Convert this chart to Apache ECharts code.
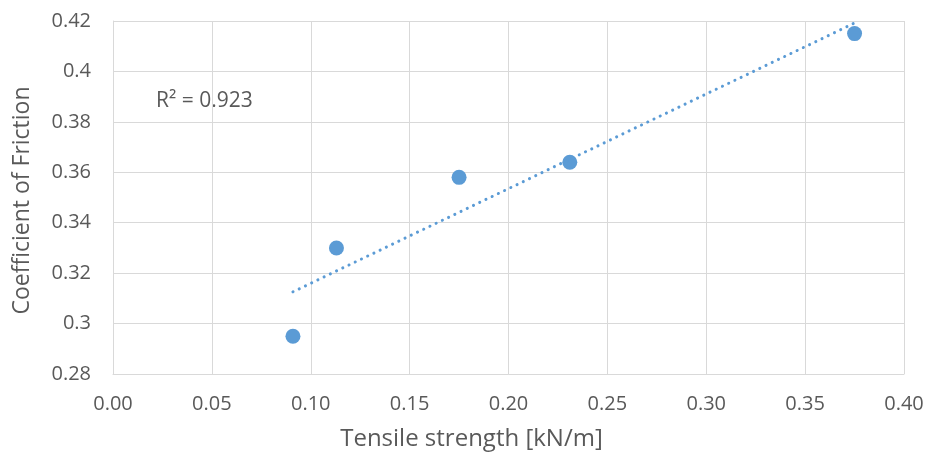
<!DOCTYPE html>
<html><head><meta charset="utf-8">
<script src="https://cdn.jsdelivr.net/npm/echarts@6/dist/echarts.min.js"></script>
<style>html,body{margin:0;padding:0;background:#fff}#c{width:929px;height:452px}</style>
</head><body><div id="c"></div>
<script>
const tensile = [0.091, 0.113, 0.175, 0.231, 0.375];
const friction = [0.295, 0.330, 0.358, 0.364, 0.415];
const trendX = [0.091, 0.375];
const trendY = [0.3126, 0.4192];
const r2Label = 'R² = 0.923';
const xTitle = 'Tensile strength [kN/m]';
const yTitle = 'Coefficient of Friction';

const font = '"Open Sans", "Noto Sans", sans-serif';
const txt = '#595959';
const chart = echarts.init(document.getElementById('c'));
chart.setOption({
  animation: false,
  grid: {left: 113, right: 25, top: 21, bottom: 78, outerBoundsMode: 'none', containLabel: false},
  xAxis: {
    type: 'value', min: 0, max: 0.4, interval: 0.05,
    name: xTitle, nameLocation: 'middle', nameGap: 53,
    nameTextStyle: {fontFamily: font, fontSize: 24, color: txt, padding: [0, 74, 0, 0]},
    axisLine: {show: true, lineStyle: {color: '#d9d9d9', width: 1}},
    axisTick: {show: false},
    axisLabel: {fontFamily: font, fontSize: 20, color: txt, margin: 20, formatter: v => v.toFixed(2)},
    splitLine: {show: true, lineStyle: {color: '#d9d9d9', width: 1}}
  },
  yAxis: {
    type: 'value', min: 0.28, max: 0.42, interval: 0.02,
    name: yTitle, nameLocation: 'middle', nameGap: 79,
    nameTextStyle: {fontFamily: font, fontSize: 23, color: txt, padding: [0, 6, 0, 0]},
    axisLine: {show: true, lineStyle: {color: '#d9d9d9', width: 1}},
    axisTick: {show: false},
    axisLabel: {fontFamily: font, fontSize: 20, color: txt, margin: 22,
      formatter: v => String(parseFloat(v.toFixed(2)))},
    splitLine: {show: true, lineStyle: {color: '#d9d9d9', width: 1}}
  },
  series: [
    {
      type: 'line', data: trendX.map((x, i) => [x, trendY[i]]),
      symbol: 'none', silent: true,
      lineStyle: {color: '#5B9BD5', width: 3, type: [0.1, 6.8], cap: 'round'}
    },
    {
      type: 'scatter', data: tensile.map((x, i) => [x, friction[i]]),
      symbolSize: 15, itemStyle: {color: '#5B9BD5', opacity: 1}
    }
  ],
  graphic: [{
    type: 'text', left: 156, top: 91,
    style: {text: r2Label, fontFamily: font, fontSize: 21, fill: txt}
  }]
});
</script></body></html>
